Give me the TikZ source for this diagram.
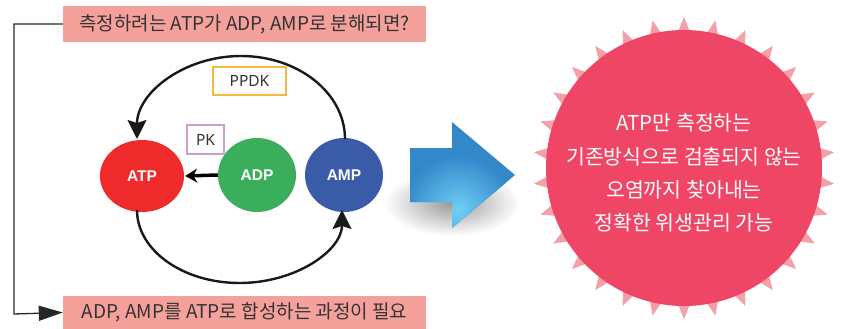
\documentclass[tikz,border=0pt]{standalone}
\usepackage{fontspec}
\setmainfont{Noto Sans CJK KR}
\newfontfamily\latn{Noto Sans}
\newfontfamily\latb{Liberation Sans}
\usetikzlibrary{arrows.meta}
\definecolor{boxpink}{HTML}{F5A19B}
\definecolor{txtgray}{HTML}{333333}
\definecolor{atpred}{HTML}{EE2A2A}
\definecolor{adpgreen}{HTML}{3AAE5A}
\definecolor{ampblue}{HTML}{3A5BA8}
\definecolor{ppdkor}{HTML}{F5B942}
\definecolor{pkpur}{HTML}{C9A0CC}
\definecolor{burst}{HTML}{EF4666}
\definecolor{spike}{HTML}{F4A0A8}
\definecolor{arrdark}{HTML}{3388CA}
\definecolor{arrlight}{HTML}{70CFF5}
\begin{document}
\begin{tikzpicture}[x=1pt,y=-1pt,
  pinkbox/.style={fill=boxpink,minimum width=363pt,minimum height=36pt,inner sep=0pt,text=txtgray,font=\fontsize{19}{22}\selectfont},
  molecule/.style={inner sep=0pt,text=white,font=\latb\bfseries\fontsize{15.5}{18}\selectfont},
  enzyme/.style={draw=#1,line width=1.2pt,fill=white,inner sep=0pt,text=txtgray,font=\latn\fontsize{15.5}{17}\selectfont},
  arc/.style={line width=2.4pt,black!90,-{Stealth[length=19pt,width=19pt,inset=3pt]}},
  side/.style={line width=1.3pt,black!85}
]
\useasboundingbox (0,0) rectangle (843,329);
% boxes
\node[pinkbox] (top) at (244.5,24) {측정하려는 ATP가 ADP, AMP로 분해되면?};
\node[pinkbox,minimum height=33pt] (bot) at (244.5,312.5) {ADP, AMP를 ATP로 합성하는 과정이 필요};
% molecules
\fill[atpred] (142,176) ellipse (42 and 36);
\fill[adpgreen] (257,175) ellipse (39 and 37);
\fill[ampblue] (344,175) ellipse (39 and 37);
\node[molecule,minimum width=84pt,minimum height=72pt] (atp) at (142,176) {ATP};
\node[molecule,minimum width=78pt,minimum height=74pt] (adp) at (257,175) {ADP};
\node[molecule,minimum width=78pt,minimum height=74pt] (amp) at (344,175) {AMP};
% enzymes
\node[enzyme=ppdkor,minimum width=73pt,minimum height=28pt] (ppdk) at (249.5,81) {PPDK};
\node[enzyme=pkpur,minimum width=37pt,minimum height=29pt] (pk) at (205.5,139.5) {PK};
% arrows
\draw[line width=3.5pt,black,-{Stealth[length=12pt,width=14pt]}] (adp.west) -- ([xshift=1pt]atp.east);
\coordinate (ampT) at (345,139);
\coordinate (atpB) at (137,210);
\draw[arc] (ampT) arc[start angle=0,end angle=-180,x radius=104,y radius=83];
\draw[arc] (atpB) arc[start angle=180,end angle=0,x radius=102.5,y radius=73];
% side connector
\coordinate (c1) at (14,24);
\coordinate (c2) at (14,314);
\draw[side,-{Triangle[length=24pt,width=15pt]}] (top.west) -- (c1) -- (c2) -- (bot.west);
% blue arrow with shadow
\shade[inner color=black!40,outer color=white] (452,203) ellipse (68 and 33);
\begin{scope}
\clip (410,148) -- (452,148) -- (452,122) -- (515,175) -- (452,228) -- (452,202) -- (410,202) -- cycle;
\fill[arrdark] (400,110) rectangle (520,235);
\shade[inner color=arrlight,outer color=arrdark] (458,210) circle (55);
\end{scope}
% starburst
\foreach \a in {0,...,29}{
  \fill[spike] ({684+151*cos(90+12*\a)},{168+151*sin(90+12*\a)}) -- ({684+135*cos(90+12*\a-2.8)},{168+135*sin(90+12*\a-2.8)}) -- ({684+135*cos(90+12*\a+2.8)},{168+135*sin(90+12*\a+2.8)}) -- cycle;
}
\fill[burst] (684,168) circle (138);
\node[text=white,align=center,font=\fontsize{20.5}{33.3}\selectfont] (res) at (684,173) {ATP만 측정하는\\기존방식으로 검출되지 않는\\오염까지 찾아내는\\정확한 위생관리 가능};
\end{tikzpicture}
\end{document}
